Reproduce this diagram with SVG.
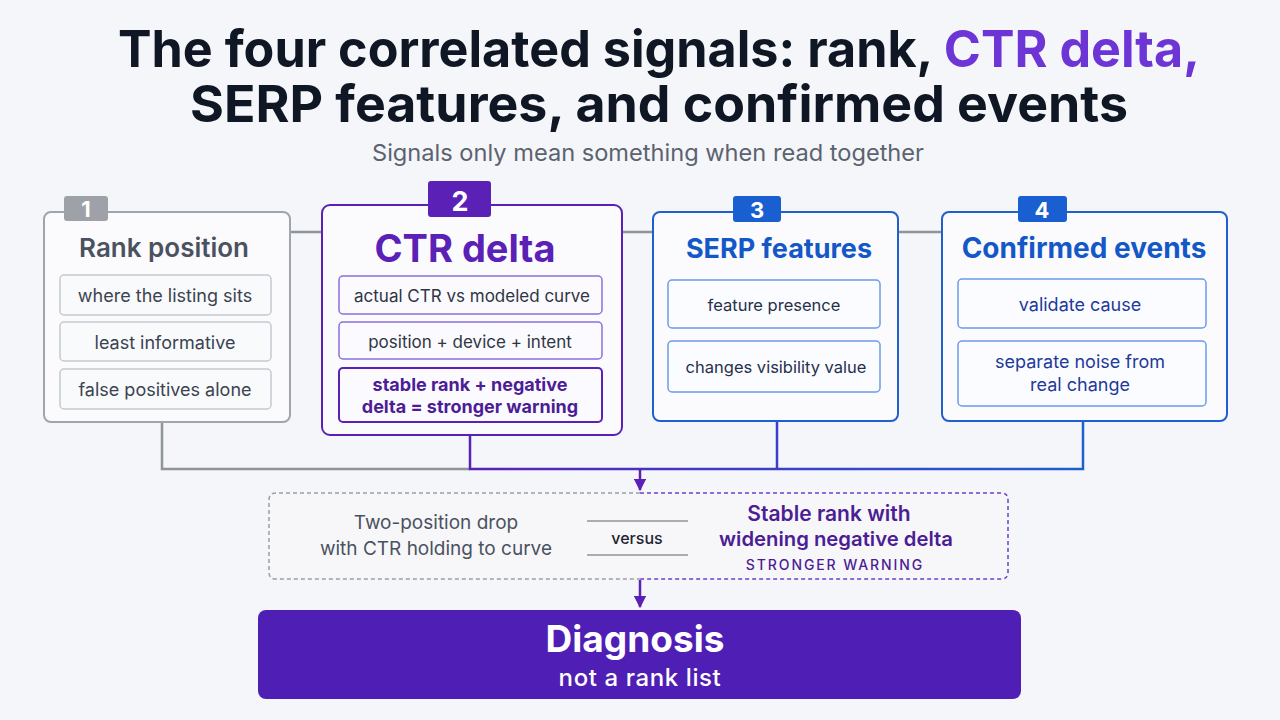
<svg xmlns="http://www.w3.org/2000/svg" width="1280" height="720" viewBox="0 0 1280 720">
<defs>
<style>
text{font-family:Inter,"Noto Sans","DejaVu Sans",sans-serif;text-anchor:middle}
.title{font-size:51px;font-weight:700;fill:#0f1624}
.sub{font-size:23px;fill:#5b6270}
.card{fill:#fbfbfd;stroke-width:2}
.item{font-size:18px}
.badge{font-size:22px;font-weight:700;fill:#fff}
.conn{fill:none;stroke-width:2.5}
</style>
<linearGradient id="hg" x1="470" y1="0" x2="1083" y2="0" gradientUnits="userSpaceOnUse">
<stop offset="0" stop-color="#5b21b6"/><stop offset="0.5" stop-color="#3b3fc8"/><stop offset="1" stop-color="#1f5fcf"/>
</linearGradient>
<marker id="ah" viewBox="0 0 10 10" refX="9" refY="5" markerWidth="5" markerHeight="5" orient="auto" markerUnits="strokeWidth">
<path d="M0,0 L10,5 L0,10 z" fill="#5b21b6"/>
</marker>
</defs>
<rect width="1280" height="720" fill="#f5f6f9"/>

<g id="title">
<text class="title" x="659" y="67" textLength="1082" lengthAdjust="spacingAndGlyphs">The four correlated signals: rank, <tspan fill="#6d35d6">CTR delta,</tspan></text>
<text class="title" x="659" y="122" textLength="938" lengthAdjust="spacingAndGlyphs">SERP features, and confirmed events</text>
<text class="sub" x="648" y="161" textLength="552" lengthAdjust="spacingAndGlyphs">Signals only mean something when read together</text>
</g>

<g id="connectors">
<path class="conn" d="M290 232 H322 M622 232 H653 M898 232 H942" stroke="#8e949c" stroke-width="2"/>
<path class="conn" d="M162 422 V469 H470" stroke="#8e949c"/>
<path class="conn" d="M470 435 V469 H1083 V421 M777 421 V469" stroke="url(#hg)"/>
<path class="conn" d="M640 469 V490" stroke="#5b21b6" marker-end="url(#ah)"/>
<path class="conn" d="M640 580 V607" stroke="#5b21b6" marker-end="url(#ah)"/>
</g>

<g id="node-rank">
<rect class="card" x="44" y="212" width="246" height="210" rx="7" stroke="#a0a5ad"/>
<rect x="64" y="196" width="44" height="25" rx="3" fill="#9ea2a8"/>
<text class="badge" x="86" y="217">1</text>
<text x="164" y="257" font-size="26" font-weight="600" fill="#4a5260">Rank position</text>
<g fill="#f9fafb" stroke="#c5c9cf" stroke-width="1.5">
<rect x="60" y="275" width="211" height="40" rx="4"/>
<rect x="60" y="322" width="211" height="39" rx="4"/>
<rect x="60" y="369" width="211" height="40" rx="4"/>
</g>
<text class="item" x="165" y="302" fill="#3c4350">where the listing sits</text>
<text class="item" x="165" y="349" fill="#3c4350">least informative</text>
<text class="item" x="165" y="396" fill="#3c4350" font-size="17.5">false positives alone</text>
</g>

<g id="node-ctr">
<rect class="card" x="322" y="205" width="300" height="230" rx="8" stroke="#5b21b6" stroke-width="2.5"/>
<rect x="428" y="181" width="63" height="36" rx="3" fill="#5b21b6"/>
<text x="460" y="211" font-size="27" font-weight="700" fill="#fff">2</text>
<text x="465" y="262" font-size="38" font-weight="700" fill="#5b21b6">CTR delta</text>
<g fill="#fbfaff" stroke="#8b6fe0" stroke-width="1.5">
<rect x="339" y="276" width="263" height="38" rx="4"/>
<rect x="339" y="322" width="263" height="37" rx="4"/>
<rect x="339" y="368" width="263" height="54" rx="4" stroke="#5b21b6" stroke-width="2"/>
</g>
<text x="472" y="302" font-size="17" fill="#2f3542">actual CTR vs modeled curve</text>
<text x="470" y="348" font-size="17" fill="#2f3542">position + device + intent</text>
<text class="item" x="470" y="391" font-weight="700" fill="#4c1d95">stable rank + negative</text>
<text class="item" x="470" y="413" font-weight="700" fill="#4c1d95">delta = stronger warning</text>
</g>

<g id="node-serp">
<rect class="card" x="653" y="212" width="245" height="209" rx="7" stroke="#1f5fcf"/>
<rect x="733" y="196" width="48" height="26" rx="3" fill="#1a5fd1"/>
<text class="badge" x="757" y="218">3</text>
<text x="779" y="258" font-size="27" font-weight="700" fill="#1458c8">SERP features</text>
<g fill="#fbfcff" stroke="#6d9be6" stroke-width="1.5">
<rect x="668" y="280" width="212" height="48" rx="4"/>
<rect x="668" y="341" width="212" height="51" rx="4"/>
</g>
<text x="774" y="311" font-size="16.5" fill="#26304a">feature presence</text>
<text x="776" y="373" font-size="16.5" fill="#26304a">changes visibility value</text>
</g>

<g id="node-events">
<rect class="card" x="942" y="212" width="285" height="209" rx="7" stroke="#1f5fcf"/>
<rect x="1018" y="196" width="49" height="26" rx="3" fill="#1a5fd1"/>
<text class="badge" x="1042" y="218">4</text>
<text x="1084" y="258" font-size="28" font-weight="700" fill="#1458c8">Confirmed events</text>
<g fill="#fbfcff" stroke="#6d9be6" stroke-width="1.5">
<rect x="958" y="279" width="248" height="49" rx="4"/>
<rect x="958" y="341" width="248" height="65" rx="4"/>
</g>
<text class="item" x="1080" y="311" fill="#1e3a9a">validate cause</text>
<text class="item" x="1080" y="368" fill="#1e3a9a">separate noise from</text>
<text class="item" x="1080" y="391" fill="#1e3a9a">real change</text>
</g>

<g id="node-compare">
<path d="M640 493 H276 Q269 493 269 500 V572 Q269 579 276 579 H640" fill="#f7f7fa" stroke="#9aa0a6" stroke-width="1.5" stroke-dasharray="4 3"/>
<path d="M640 493 H1001 Q1008 493 1008 500 V572 Q1008 579 1001 579 H640" fill="#f7f7fa" stroke="#6d3fd0" stroke-width="1.5" stroke-dasharray="4 3"/>
<text x="436" y="529" font-size="19" fill="#4a5260">Two-position drop</text>
<text x="436" y="555" font-size="19" fill="#4a5260">with CTR holding to curve</text>
<path d="M587 521 H688 M587 555 H688" stroke="#8e949c" stroke-width="1.5"/>
<text x="637" y="544" font-size="16" font-weight="500" fill="#1f2430">versus</text>
<text x="829" y="521" font-size="21" font-weight="600" fill="#4c1d95">Stable rank with</text>
<text x="836" y="546" font-size="20.3" font-weight="600" fill="#4c1d95">widening negative delta</text>
<text x="835" y="570" font-size="14" font-weight="500" letter-spacing="1.9" fill="#4c1d95">STRONGER WARNING</text>
</g>

<g id="node-diagnosis">
<rect x="258" y="610" width="763" height="89" rx="8" fill="#4f1fb5"/>
<text x="635" y="652" font-size="37" font-weight="700" fill="#fff">Diagnosis</text>
<text x="640" y="686" font-size="24" font-weight="500" fill="#fff" letter-spacing="0.6">not a rank list</text>
</g>
</svg>
